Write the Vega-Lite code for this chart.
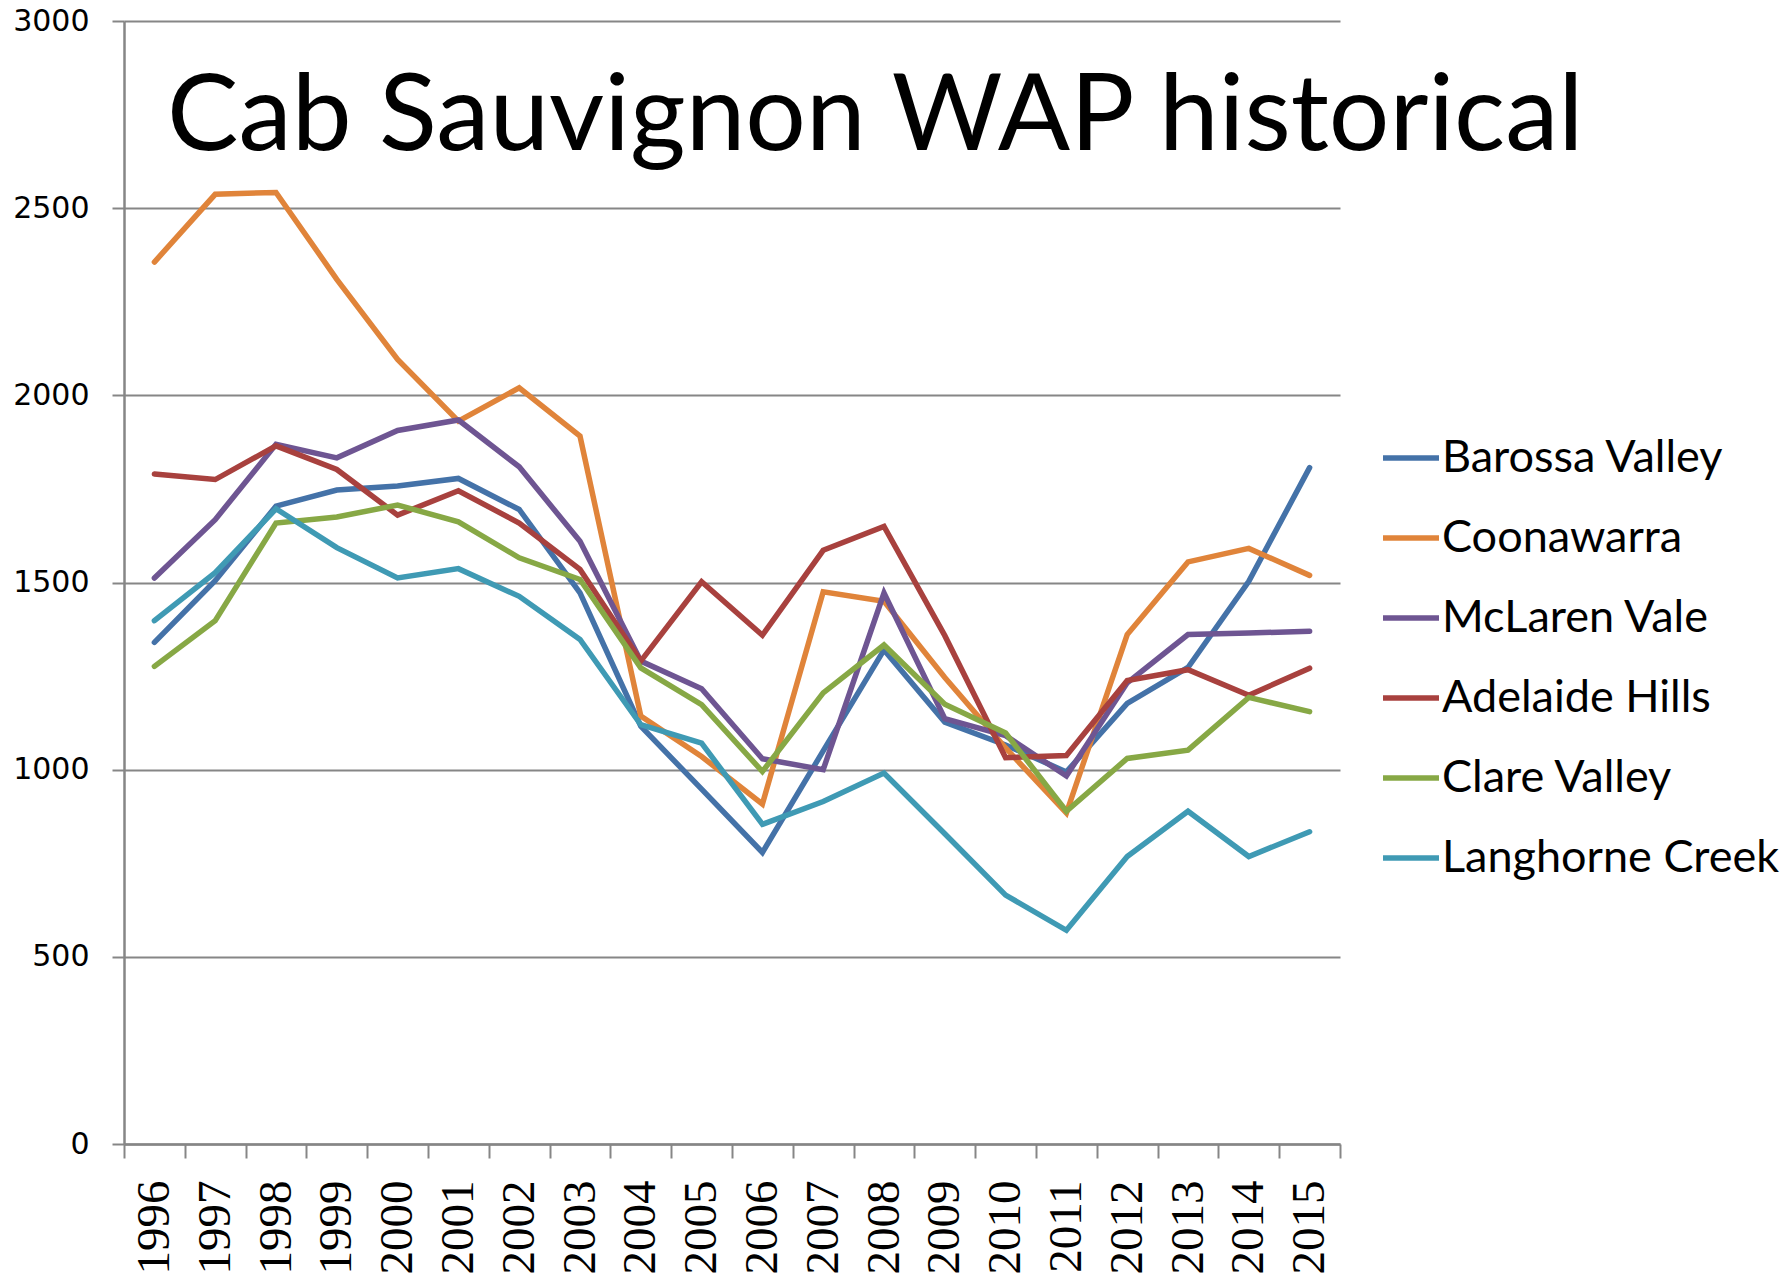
{
  "$schema": "https://vega.github.io/schema/vega-lite/v6.json",
  "autosize": {"type": "none"},
  "width": 1216,
  "height": 1123,
  "padding": {"left": 124, "top": 21, "right": 447, "bottom": 132},
  "background": "white",
  "title": {
    "text": "Cab Sauvignon WAP historical",
    "anchor": "start",
    "frame": "group",
    "font": "Lato",
    "fontSize": 107,
    "fontWeight": "normal",
    "color": "#000000",
    "baseline": "alphabetic",
    "offset": 0,
    "dx": 43,
    "dy": 251
  },
  "data": {
    "values": [
      {"region": "Barossa Valley", "year": "1996", "wap": 1340},
      {"region": "Barossa Valley", "year": "1997", "wap": 1505},
      {"region": "Barossa Valley", "year": "1998", "wap": 1704},
      {"region": "Barossa Valley", "year": "1999", "wap": 1747},
      {"region": "Barossa Valley", "year": "2000", "wap": 1758},
      {"region": "Barossa Valley", "year": "2001", "wap": 1778},
      {"region": "Barossa Valley", "year": "2002", "wap": 1695},
      {"region": "Barossa Valley", "year": "2003", "wap": 1472},
      {"region": "Barossa Valley", "year": "2004", "wap": 1116},
      {"region": "Barossa Valley", "year": "2005", "wap": 948},
      {"region": "Barossa Valley", "year": "2006", "wap": 779},
      {"region": "Barossa Valley", "year": "2007", "wap": 1050},
      {"region": "Barossa Valley", "year": "2008", "wap": 1320},
      {"region": "Barossa Valley", "year": "2009", "wap": 1127},
      {"region": "Barossa Valley", "year": "2010", "wap": 1066},
      {"region": "Barossa Valley", "year": "2011", "wap": 994},
      {"region": "Barossa Valley", "year": "2012", "wap": 1177},
      {"region": "Barossa Valley", "year": "2013", "wap": 1273},
      {"region": "Barossa Valley", "year": "2014", "wap": 1503},
      {"region": "Barossa Valley", "year": "2015", "wap": 1807},
      {"region": "Coonawarra", "year": "1996", "wap": 2356},
      {"region": "Coonawarra", "year": "1997", "wap": 2537},
      {"region": "Coonawarra", "year": "1998", "wap": 2542},
      {"region": "Coonawarra", "year": "1999", "wap": 2310},
      {"region": "Coonawarra", "year": "2000", "wap": 2096},
      {"region": "Coonawarra", "year": "2001", "wap": 1931},
      {"region": "Coonawarra", "year": "2002", "wap": 2020},
      {"region": "Coonawarra", "year": "2003", "wap": 1891},
      {"region": "Coonawarra", "year": "2004", "wap": 1143},
      {"region": "Coonawarra", "year": "2005", "wap": 1035},
      {"region": "Coonawarra", "year": "2006", "wap": 908},
      {"region": "Coonawarra", "year": "2007", "wap": 1475},
      {"region": "Coonawarra", "year": "2008", "wap": 1450},
      {"region": "Coonawarra", "year": "2009", "wap": 1246},
      {"region": "Coonawarra", "year": "2010", "wap": 1058},
      {"region": "Coonawarra", "year": "2011", "wap": 884},
      {"region": "Coonawarra", "year": "2012", "wap": 1361},
      {"region": "Coonawarra", "year": "2013", "wap": 1555},
      {"region": "Coonawarra", "year": "2014", "wap": 1591},
      {"region": "Coonawarra", "year": "2015", "wap": 1519},
      {"region": "McLaren Vale", "year": "1996", "wap": 1512},
      {"region": "McLaren Vale", "year": "1997", "wap": 1668},
      {"region": "McLaren Vale", "year": "1998", "wap": 1869},
      {"region": "McLaren Vale", "year": "1999", "wap": 1833},
      {"region": "McLaren Vale", "year": "2000", "wap": 1906},
      {"region": "McLaren Vale", "year": "2001", "wap": 1934},
      {"region": "McLaren Vale", "year": "2002", "wap": 1809},
      {"region": "McLaren Vale", "year": "2003", "wap": 1610},
      {"region": "McLaren Vale", "year": "2004", "wap": 1290},
      {"region": "McLaren Vale", "year": "2005", "wap": 1216},
      {"region": "McLaren Vale", "year": "2006", "wap": 1029},
      {"region": "McLaren Vale", "year": "2007", "wap": 1000},
      {"region": "McLaren Vale", "year": "2008", "wap": 1472},
      {"region": "McLaren Vale", "year": "2009", "wap": 1136},
      {"region": "McLaren Vale", "year": "2010", "wap": 1091},
      {"region": "McLaren Vale", "year": "2011", "wap": 983},
      {"region": "McLaren Vale", "year": "2012", "wap": 1232},
      {"region": "McLaren Vale", "year": "2013", "wap": 1361},
      {"region": "McLaren Vale", "year": "2014", "wap": 1365},
      {"region": "McLaren Vale", "year": "2015", "wap": 1370},
      {"region": "Adelaide Hills", "year": "1996", "wap": 1790},
      {"region": "Adelaide Hills", "year": "1997", "wap": 1775},
      {"region": "Adelaide Hills", "year": "1998", "wap": 1865},
      {"region": "Adelaide Hills", "year": "1999", "wap": 1802},
      {"region": "Adelaide Hills", "year": "2000", "wap": 1680},
      {"region": "Adelaide Hills", "year": "2001", "wap": 1745},
      {"region": "Adelaide Hills", "year": "2002", "wap": 1659},
      {"region": "Adelaide Hills", "year": "2003", "wap": 1535},
      {"region": "Adelaide Hills", "year": "2004", "wap": 1290},
      {"region": "Adelaide Hills", "year": "2005", "wap": 1502},
      {"region": "Adelaide Hills", "year": "2006", "wap": 1359},
      {"region": "Adelaide Hills", "year": "2007", "wap": 1586},
      {"region": "Adelaide Hills", "year": "2008", "wap": 1650},
      {"region": "Adelaide Hills", "year": "2009", "wap": 1358},
      {"region": "Adelaide Hills", "year": "2010", "wap": 1032},
      {"region": "Adelaide Hills", "year": "2011", "wap": 1038},
      {"region": "Adelaide Hills", "year": "2012", "wap": 1238},
      {"region": "Adelaide Hills", "year": "2013", "wap": 1267},
      {"region": "Adelaide Hills", "year": "2014", "wap": 1199},
      {"region": "Adelaide Hills", "year": "2015", "wap": 1271},
      {"region": "Clare Valley", "year": "1996", "wap": 1276},
      {"region": "Clare Valley", "year": "1997", "wap": 1398},
      {"region": "Clare Valley", "year": "1998", "wap": 1659},
      {"region": "Clare Valley", "year": "1999", "wap": 1675},
      {"region": "Clare Valley", "year": "2000", "wap": 1707},
      {"region": "Clare Valley", "year": "2001", "wap": 1662},
      {"region": "Clare Valley", "year": "2002", "wap": 1566},
      {"region": "Clare Valley", "year": "2003", "wap": 1508},
      {"region": "Clare Valley", "year": "2004", "wap": 1272},
      {"region": "Clare Valley", "year": "2005", "wap": 1174},
      {"region": "Clare Valley", "year": "2006", "wap": 995},
      {"region": "Clare Valley", "year": "2007", "wap": 1205},
      {"region": "Clare Valley", "year": "2008", "wap": 1333},
      {"region": "Clare Valley", "year": "2009", "wap": 1175},
      {"region": "Clare Valley", "year": "2010", "wap": 1098},
      {"region": "Clare Valley", "year": "2011", "wap": 889},
      {"region": "Clare Valley", "year": "2012", "wap": 1030},
      {"region": "Clare Valley", "year": "2013", "wap": 1052},
      {"region": "Clare Valley", "year": "2014", "wap": 1193},
      {"region": "Clare Valley", "year": "2015", "wap": 1155},
      {"region": "Langhorne Creek", "year": "1996", "wap": 1398},
      {"region": "Langhorne Creek", "year": "1997", "wap": 1526},
      {"region": "Langhorne Creek", "year": "1998", "wap": 1697},
      {"region": "Langhorne Creek", "year": "1999", "wap": 1593},
      {"region": "Langhorne Creek", "year": "2000", "wap": 1512},
      {"region": "Langhorne Creek", "year": "2001", "wap": 1537},
      {"region": "Langhorne Creek", "year": "2002", "wap": 1463},
      {"region": "Langhorne Creek", "year": "2003", "wap": 1348},
      {"region": "Langhorne Creek", "year": "2004", "wap": 1120},
      {"region": "Langhorne Creek", "year": "2005", "wap": 1071},
      {"region": "Langhorne Creek", "year": "2006", "wap": 854},
      {"region": "Langhorne Creek", "year": "2007", "wap": 915},
      {"region": "Langhorne Creek", "year": "2008", "wap": 991},
      {"region": "Langhorne Creek", "year": "2009", "wap": 829},
      {"region": "Langhorne Creek", "year": "2010", "wap": 665},
      {"region": "Langhorne Creek", "year": "2011", "wap": 571},
      {"region": "Langhorne Creek", "year": "2012", "wap": 768},
      {"region": "Langhorne Creek", "year": "2013", "wap": 889},
      {"region": "Langhorne Creek", "year": "2014", "wap": 768},
      {"region": "Langhorne Creek", "year": "2015", "wap": 834}
    ]
  },
  "mark": {"type": "line", "strokeWidth": 5.5, "strokeJoin": "miter", "strokeCap": "round"},
  "encoding": {
    "x": {
      "field": "year",
      "type": "ordinal",
      "sort": null,
      "scale": {"type": "band", "paddingInner": 0, "paddingOuter": 0},
      "axis": {
        "title": null,
        "tickBand": "extent",
        "labelAngle": -90,
        "labelFont": "Liberation Sans Narrow",
        "labelFontSize": 47,
        "labelColor": "#000000",
        "labelPadding": 22,
        "tickSize": 14,
        "tickColor": "#868686",
        "tickWidth": 2,
        "domainColor": "#868686",
        "domainWidth": 2.5,
        "grid": false
      }
    },
    "y": {
      "field": "wap",
      "type": "quantitative",
      "scale": {"domain": [0, 3000], "nice": false, "zero": true},
      "axis": {
        "title": null,
        "values": [0, 500, 1000, 1500, 2000, 2500, 3000],
        "format": "d",
        "labelFont": "DejaVu Sans",
        "labelFontSize": 30,
        "labelColor": "#000000",
        "labelPadding": 23,
        "tickSize": 12,
        "tickColor": "#868686",
        "tickWidth": 2,
        "domainColor": "#868686",
        "domainWidth": 2.5,
        "grid": true,
        "gridColor": "#868686",
        "gridWidth": 2,
        "gridOpacity": 1
      }
    },
    "color": {
      "field": "region",
      "type": "nominal",
      "scale": {
        "domain": ["Barossa Valley", "Coonawarra", "McLaren Vale", "Adelaide Hills", "Clare Valley", "Langhorne Creek"],
        "range": ["#4472A8", "#E0843A", "#6E5592", "#A8413E", "#87A845", "#3F9AB4"]
      },
      "legend": {
        "title": null,
        "orient": "none",
        "legendX": 1256,
        "legendY": 406,
        "padding": 0,
        "symbolType": "stroke",
        "symbolSize": 3136,
        "symbolStrokeWidth": 5.5,
        "labelFont": "Lato",
        "labelFontSize": 45,
        "labelColor": "#000000",
        "labelOffset": 0,
        "rowPadding": 26,
        "labelLimit": 600
      }
    }
  },
  "config": {
    "view": {"stroke": null}
  }
}
